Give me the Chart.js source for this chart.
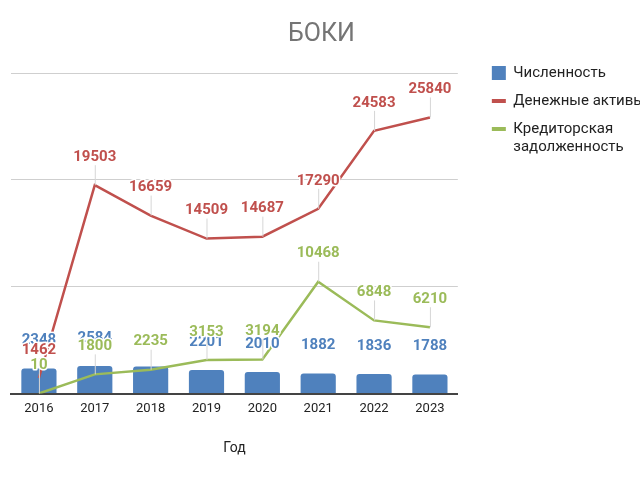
<!DOCTYPE html>
<html>
<head>
<meta charset="utf-8">
<script src="https://cdn.jsdelivr.net/npm/chart.js@4.4.1/dist/chart.umd.min.js"></script>
<style>
  html, body { margin: 0; padding: 0; background: #fff; overflow: hidden; width: 640px; height: 480px; }
  #wrap { position: absolute; left: -12px; top: 0; width: 667px; height: 480px; }
</style>
</head>
<body>
<div id="wrap"><canvas id="chart"></canvas></div>
<script>
const years = ['2016', '2017', '2018', '2019', '2020', '2021', '2022', '2023'];
const headcount = [2348, 2584, 2540, 2201, 2010, 1882, 1836, 1788];
const cashAssets = [1462, 19503, 16659, 14509, 14687, 17290, 24583, 25840];
const payables = [10, 1800, 2235, 3153, 3194, 10468, 6848, 6210];

const BLUE = '#4f81bd', RED = '#c0504d', GREEN = '#9bbb59';

// value labels above every mark, google-sheets style
const valueLabels = {
  id: 'valueLabels',
  afterDatasetsDraw(chart) {
    const ctx = chart.ctx;
    ctx.save();
    ctx.font = 'bold 15px Roboto';
    ctx.textAlign = 'center';
    ctx.textBaseline = 'middle';
    ctx.lineJoin = 'round';

    // collect labels first so ones that are almost fully covered can be dropped
    const labels = [];
    chart.data.datasets.forEach((ds, i) => {
      chart.getDatasetMeta(i).data.forEach((el, j) => {
        labels.push({ ds, x: el.x, y: el.y, ly: el.y - 28, txt: String(ds.data[j]) });
      });
    });
    labels.forEach((a, k) => {
      a.hidden = labels.some((b, m) => m > k && Math.abs(b.x - a.x) < 5 && Math.abs(b.ly - a.ly) < 5);
    });

    labels.forEach((l) => {
      if (l.ds.type === 'line') {
        ctx.strokeStyle = '#d6d6d6';
        ctx.lineWidth = 1;
        ctx.beginPath();
        ctx.moveTo(l.x + 0.5, l.y);
        ctx.lineTo(l.x + 0.5, l.ly + 8);
        ctx.stroke();
      }
      if (l.hidden) return;
      ctx.strokeStyle = '#fff';
      ctx.lineWidth = 3;
      ctx.strokeText(l.txt, l.x, l.ly);
      ctx.fillStyle = l.ds.borderColor;
      ctx.fillText(l.txt, l.x, l.ly);
    });
    ctx.restore();
  }
};

const ctx = document.getElementById('chart').getContext('2d');
new Chart(ctx, {
  data: {
    labels: years,
    datasets: [
      {
        type: 'bar',
        label: 'Численность',
        data: headcount,
        backgroundColor: BLUE,
        borderColor: BLUE,
        borderWidth: 0,
        borderRadius: 3,
        barPercentage: 0.63,
        categoryPercentage: 1,
        order: 3
      },
      {
        type: 'line',
        label: 'Денежные активы',
        data: cashAssets,
        borderColor: RED,
        backgroundColor: RED,
        borderWidth: 2.5,
        pointRadius: 0,
        order: 2
      },
      {
        type: 'line',
        label: 'Кредиторская задолженность',
        data: payables,
        borderColor: GREEN,
        backgroundColor: GREEN,
        borderWidth: 2.5,
        pointRadius: 0,
        order: 1
      }
    ]
  },
  options: {
    responsive: true,
    maintainAspectRatio: false,
    animation: false,
    layout: { padding: { bottom: 23 } },
    scales: {
      x: {
        grid: { display: false, drawTicks: false },
        border: { color: '#444', width: 2 },
        ticks: { color: '#222', font: { family: 'Roboto', size: 13 }, padding: 7 },
        title: {
          display: true,
          text: 'Год',
          color: '#222',
          font: { family: 'Roboto', size: 14 },
          padding: { top: 17, bottom: 0 }
        }
      },
      y: {
        position: 'left',
        min: 0,
        max: 30000,
        ticks: { display: false, stepSize: 10000 },
        grid: { color: '#cfcfcf', drawTicks: false },
        border: { display: false },
        afterFit: (s) => { s.width = 23; }
      },
      yRight: {
        position: 'right',
        min: 0,
        max: 30000,
        ticks: { display: false },
        grid: { display: false, drawTicks: false },
        border: { display: false },
        afterFit: (s) => { s.width = 21; }
      }
    },
    plugins: {
      title: {
        display: true,
        text: 'БОКИ',
        color: '#757575',
        font: { family: 'Roboto', size: 25, weight: 'normal' },
        padding: { top: 20, bottom: 23 }
      },
      legend: {
        position: 'right',
        align: 'start',
        maxWidth: 200,
        title: { display: true, text: '', padding: { top: 38, bottom: 0 } },
        labels: {
          color: '#222',
          font: { family: 'Roboto', size: 15, lineHeight: '18px' },
          usePointStyle: true,
          pointStyleWidth: 14,
          boxHeight: 14,
          padding: 13,
          generateLabels(chart) {
            const items = Chart.defaults.plugins.legend.labels.generateLabels(chart);
            items.sort((a, b) => a.datasetIndex - b.datasetIndex);
            items.forEach((it) => {
              const ds = chart.data.datasets[it.datasetIndex];
              if (ds.type === 'bar') {
                it.pointStyle = 'rect';
              } else {
                it.pointStyle = 'line';
                it.lineWidth = 4;
                it.strokeStyle = ds.borderColor;
              }
              if (it.text === 'Кредиторская задолженность') {
                it.text = ['Кредиторская', 'задолженность'];
              }
            });
            return items;
          }
        }
      },
      tooltip: { enabled: false }
    }
  },
  plugins: [valueLabels]
});
</script>
</body>
</html>
